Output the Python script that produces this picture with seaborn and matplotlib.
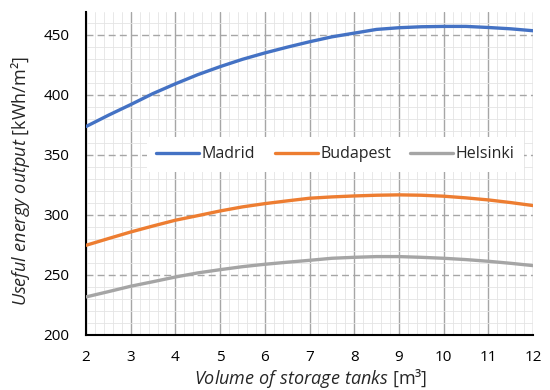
import numpy as np
import pandas as pd
import matplotlib
matplotlib.use("Agg")
import matplotlib.pyplot as plt
from matplotlib.ticker import MultipleLocator
import seaborn as sns

volume = [2, 2.5, 3, 3.5, 4, 4.5, 5, 5.5, 6, 6.5, 7, 7.5, 8, 8.5, 9, 9.5, 10, 10.5, 11, 11.5, 12]
madrid = [373.6, 383.0, 391.9, 401.1, 409.2, 416.8, 423.5, 429.6, 434.9, 439.7, 444.2,
          448.3, 451.4, 454.5, 455.9, 456.7, 457.0, 457.0, 456.1, 455.0, 453.4]
budapest = [274.7, 280.3, 285.8, 290.8, 295.6, 299.4, 303.3, 306.7, 309.4, 311.7, 313.9,
            315.0, 315.8, 316.4, 316.7, 316.4, 315.6, 314.2, 312.5, 310.3, 307.8]
helsinki = [231.7, 236.1, 240.6, 244.4, 248.3, 251.7, 254.4, 256.9, 258.9, 260.6, 262.2,
            263.9, 264.7, 265.3, 265.3, 264.7, 263.9, 262.8, 261.4, 259.7, 257.8]
cities = ["Madrid", "Budapest", "Helsinki"]
colors = ["#4472C4", "#ED7D31", "#A5A5A5"]
xticks = list(range(2, 13))
yticks = [200, 250, 300, 350, 400, 450]

df = pd.DataFrame({
    "volume": volume * 3,
    "value": madrid + budapest + helsinki,
    "city": [c for c in cities for _ in volume],
})

sns.set_theme(style="white")
plt.rcParams["font.family"] = ["Open Sans", "DejaVu Sans"]
plt.rcParams["mathtext.fontset"] = "custom"
plt.rcParams["mathtext.rm"] = "Open Sans"
plt.rcParams["mathtext.it"] = "Open Sans:italic"

fig, ax = plt.subplots(figsize=(5.5, 3.9), dpi=100)
fig.subplots_adjust(left=86/550, right=533/550, top=1-12/390, bottom=1-335/390)

sns.lineplot(data=df, x="volume", y="value", hue="city", palette=colors,
             hue_order=cities, linewidth=2.4, ax=ax, zorder=3)

ax.set_xlim(2, 12)
ax.set_ylim(200, 469)
ax.set_xticks(xticks)
ax.set_yticks(yticks)
ax.xaxis.set_minor_locator(MultipleLocator(0.2))
ax.yaxis.set_minor_locator(MultipleLocator(10))
ax.grid(which="minor", color="#E4E4E4", linewidth=0.6, zorder=0)
ax.grid(which="major", axis="x", color="#A6A6A6", linewidth=1.0, linestyle="-", zorder=1)
ax.grid(which="major", axis="y", color="#A6A6A6", linewidth=1.0, linestyle=(0, (5, 3)), zorder=1)
ax.set_axisbelow(True)

for s in ["top", "right"]:
    ax.spines[s].set_visible(False)
for s in ["left", "bottom"]:
    ax.spines[s].set_color("black")
    ax.spines[s].set_linewidth(1.5)

ax.tick_params(axis="both", which="both", length=0, labelsize=11, colors="black")
ax.tick_params(axis="x", pad=11)
ax.tick_params(axis="y", pad=12)

ax.set_xlabel(r"$\mathit{Volume\ of\ storage\ tanks}$ [m³]", fontsize=13)
ax.set_ylabel(r"$\mathit{Useful\ energy\ output}$ [kWh/m²]", fontsize=13)
ax.xaxis.set_label_coords(0.503, -0.098)
ax.yaxis.set_label_coords(-0.12, 0.475)

leg = ax.legend(loc="center", bbox_to_anchor=(0.558, 0.56), ncol=3, frameon=True,
                fontsize=11.5, handlelength=2.7, handletextpad=0.15, columnspacing=1.2,
                borderpad=0.6, borderaxespad=0)
leg.get_frame().set_facecolor("white")
leg.get_frame().set_edgecolor("none")
leg.get_frame().set_alpha(1)
leg.get_frame().set_boxstyle("square", pad=0)
leg.set_title(None)

fig.savefig("out.png", dpi=100)
